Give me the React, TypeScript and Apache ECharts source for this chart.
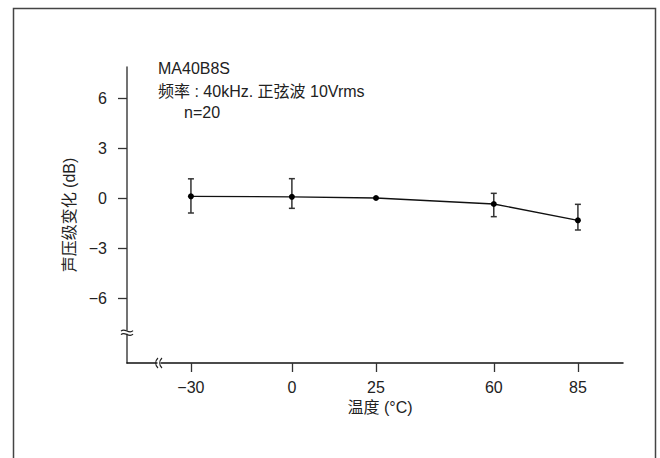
import React, { useEffect, useRef } from "react";
import * as echarts from "echarts";

const temps = [-30, 0, 25, 60, 85];
const levelChange = [0.1, 0.07, 0, -0.36, -1.34];
const errLow: (number | null)[] = [-0.9, -0.62, null, -1.12, -1.92];
const errHigh: (number | null)[] = [1.15, 1.16, null, 0.28, -0.38];
const xTicks = [-30, 0, 25, 60, 85];
const yTicks = [-6, -3, 0, 3, 6];
const annotations = ["MA40B8S", "频率 : 40kHz. 正弦波 10Vrms", "n=20"];
const xName = "温度 (°C)";
const yName = "声压级变化 (dB)";
const yBreakValue = -8.05;
const xBreakValue = -39.5;

const FONT = '"Liberation Sans", Arial, "Noto Sans CJK SC", sans-serif';
const fmt = (v: number) => (v < 0 ? "\u2212" + Math.abs(v) : String(v));

export default function App() {
  const ref = useRef<HTMLDivElement>(null);
  useEffect(() => {
    if (!ref.current) return;
    const chart = echarts.init(ref.current, undefined, { renderer: "svg" });
    const errData = temps
      .map((t, i) => [t, errLow[i], errHigh[i]])
      .filter((d) => d[1] != null && d[2] != null);
    const axisColor = "#333";
    chart.setOption({
      animation: false,
      backgroundColor: "#fff",
      grid: { left: 127, right: 37, top: 67, bottom: 95 },
      xAxis: {
        type: "value",
        min: -49,
        max: 98.4,
        name: xName,
        nameLocation: "middle",
        nameGap: 36,
        nameTextStyle: { fontFamily: FONT, fontSize: 16, color: "#222", padding: [0, 0, 0, 10] },
        axisLine: { show: true, onZero: false, lineStyle: { color: "#111", width: 1.5 } },
        axisTick: { show: true, length: 9, customValues: xTicks, lineStyle: { color: axisColor, width: 1.3 } },
        axisLabel: { customValues: xTicks, formatter: fmt, margin: 16, fontFamily: FONT, fontSize: 16, color: "#222" },
        splitLine: { show: false },
      },
      yAxis: {
        type: "value",
        min: -9.9,
        max: 7.86,
        name: yName,
        nameLocation: "middle",
        nameGap: 45,
        nameTextStyle: { fontFamily: FONT, fontSize: 16, color: "#222" },
        axisLine: { show: true, onZero: false, lineStyle: { color: "#444", width: 1.5 } },
        axisTick: { show: true, length: 9, customValues: yTicks, lineStyle: { color: axisColor, width: 1.3 } },
        axisLabel: { customValues: yTicks, formatter: fmt, margin: 20, fontFamily: FONT, fontSize: 16, color: "#222" },
        splitLine: { show: false },
      },
      series: [
        {
          type: "custom",
          data: errData,
          z: 3,
          renderItem: (params: any, api: any) => {
            const x = api.value(0);
            const lo = api.coord([x, api.value(1)]);
            const hi = api.coord([x, api.value(2)]);
            const w = 3;
            const st = { stroke: "#333", lineWidth: 1.5 };
            return {
              type: "group",
              children: [
                { type: "line", shape: { x1: lo[0], y1: lo[1], x2: hi[0], y2: hi[1] }, style: st },
                { type: "line", shape: { x1: lo[0] - w, y1: lo[1], x2: lo[0] + w, y2: lo[1] }, style: st },
                { type: "line", shape: { x1: hi[0] - w, y1: hi[1], x2: hi[0] + w, y2: hi[1] }, style: st },
              ],
            };
          },
        },
        {
          type: "line",
          data: temps.map((t, i) => [t, levelChange[i]]),
          symbol: "circle",
          symbolSize: 6,
          z: 4,
          lineStyle: { color: "#111", width: 1.4 },
          itemStyle: { color: "#000" },
        },
      ],
    });

    const yb = chart.convertToPixel({ xAxisIndex: 0, yAxisIndex: 0 }, [-49, yBreakValue]);
    const xb = chart.convertToPixel({ xAxisIndex: 0, yAxisIndex: 0 }, [xBreakValue, -9.9]);
    const bst = { stroke: "#222", lineWidth: 1.2, fill: "none" };
    const graphics: any[] = [
      {
        type: "rect",
        shape: { x: 13.5, y: 8.5, width: 642, height: 480 },
        style: { stroke: "#444", lineWidth: 1.5, fill: "none" },
        silent: true,
      },
      { type: "rect", shape: { x: yb[0] - 2, y: yb[1] - 1.5, width: 4, height: 3 }, style: { fill: "#fff" }, z: 100 },
      {
        type: "bezierCurve",
        shape: { x1: yb[0] - 6, y1: yb[1] - 1, cpx1: yb[0] - 2, cpy1: yb[1] - 5, cpx2: yb[0] + 2, cpy2: yb[1] + 3, x2: yb[0] + 6, y2: yb[1] - 1.5 },
        style: bst,
        z: 101,
      },
      {
        type: "bezierCurve",
        shape: { x1: yb[0] - 6, y1: yb[1] + 2.5, cpx1: yb[0] - 2, cpy1: yb[1] - 1.5, cpx2: yb[0] + 2, cpy2: yb[1] + 6.5, x2: yb[0] + 6, y2: yb[1] + 2 },
        style: bst,
        z: 101,
      },
      { type: "rect", shape: { x: xb[0] - 1.5, y: xb[1] - 2, width: 3, height: 4 }, style: { fill: "#fff" }, z: 100 },
      {
        type: "bezierCurve",
        shape: { x1: xb[0] - 1, y1: xb[1] - 5, cpx1: xb[0] - 4, cpy1: xb[1] - 2, cpx2: xb[0] - 4, cpy2: xb[1] + 2, x2: xb[0] - 1, y2: xb[1] + 5 },
        style: bst,
        z: 101,
      },
      {
        type: "bezierCurve",
        shape: { x1: xb[0] + 3, y1: xb[1] - 5, cpx1: xb[0], cpy1: xb[1] - 2, cpx2: xb[0], cpy2: xb[1] + 2, x2: xb[0] + 3, y2: xb[1] + 5 },
        style: bst,
        z: 101,
      },
      {
        type: "text",
        x: 158,
        y: 68,
        style: { text: annotations[0], font: `16px ${FONT}`, fill: "#222", verticalAlign: "middle" },
      },
      {
        type: "text",
        x: 158,
        y: 91,
        style: { text: annotations[1], font: `16px ${FONT}`, fill: "#222", verticalAlign: "middle" },
      },
      {
        type: "text",
        x: 184,
        y: 112,
        style: { text: annotations[2], font: `16px ${FONT}`, fill: "#222", verticalAlign: "middle" },
      },
    ];
    chart.setOption({ graphic: graphics });
    return () => chart.dispose();
  }, []);
  return <div ref={ref} style={{ position: "fixed", left: 0, top: 0, width: 660, height: 458 }} />;
}
